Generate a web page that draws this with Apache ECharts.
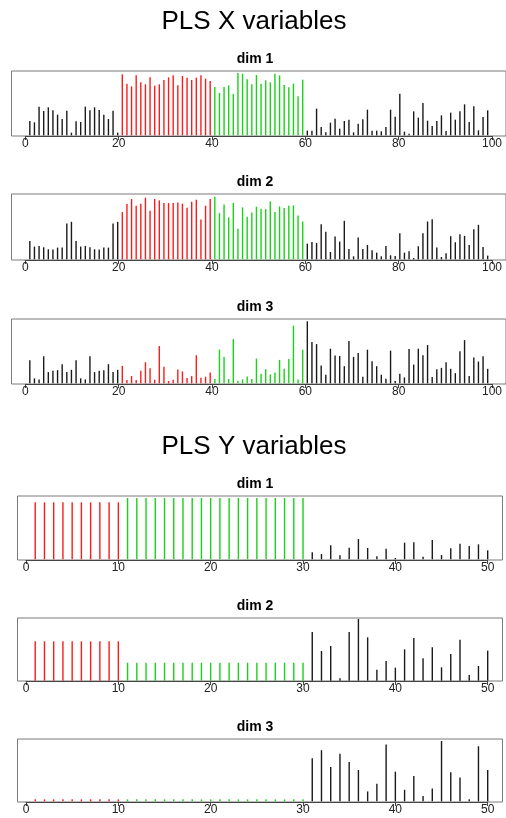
<!DOCTYPE html>
<html><head><meta charset="utf-8">
<script src="https://cdn.jsdelivr.net/npm/echarts@6/dist/echarts.min.js"></script>
<style>html,body{margin:0;padding:0;background:#fff}#c{width:506px;height:818px}</style>
</head><body><div id="c"></div>
<script>
// ---- data (bar heights, arbitrary units) ----
const xDim1 = [43,39,86,73,84,75,62,49,74,8, 42,40,86,75,84,76,62,49,74,8,
  183,155,147,180,159,153,174,149,153,166, 174,180,150,178,173,166,173,180,170,163,
  145,127,145,150,124,187,185,168,153,181, 155,165,159,185,180,151,144,155,117,167,
  14,14,80,25,9,38,50,20,43,47, 9,35,48,77,14,14,12,25,77,56,
  125,11,5,72,53,97,44,28,43,60, 13,68,47,72,93,40,87,15,55,75];
const xDim2 = [55,38,40,36,30,29,35,35,107,112, 55,38,40,36,30,29,35,35,107,112,
  141,165,180,160,166,184,145,180,176,168, 168,168,170,166,154,172,178,119,160,180,
  187,138,164,125,168,91,155,127,140,157, 151,150,173,141,158,153,160,161,131,113,
  47,52,49,105,82,22,68,53,115,31, 9,65,31,43,27,20,9,40,12,10,
  78,20,24,4,39,78,113,120,35,7, 18,69,51,75,70,43,90,103,37,11];
const xDim3 = [70,15,12,82,34,38,40,58,34,41, 70,15,12,82,34,38,40,58,34,41,
  53,10,22,10,38,64,46,11,113,50, 7,11,42,36,16,22,85,17,20,33,
  13,102,80,13,134,8,12,21,13,75, 29,43,27,33,71,44,74,175,12,102,
  188,125,119,54,26,105,84,83,52,128, 80,92,20,102,67,52,26,14,99,7,
  29,18,104,57,105,85,116,19,43,47, 64,44,31,97,131,22,78,66,82,44];
const yDim1 = [171,171,171,171,171,171,171,171,171,171,
  184,184,184,184,184,184,184,184,184,184, 184,184,184,184,184,184,184,184,184,184,
  21,16,42,12,35,61,34,9,32,4, 50,51,8,58,13,33,47,40,45,27];
const yDim2 = [118,118,118,118,118,118,118,118,118,118,
  54,54,54,54,54,54,54,54,54,54, 54,54,54,54,54,54,54,54,54,54,
  146,89,104,7,146,185,130,33,59,39, 94,128,67,100,40,80,123,17,44,90];
const yDim3 = [6,6,6,6,6,6,6,6,6,6, 6,6,6,6,6,6,6,6,6,6, 6,6,6,6,6,6,6,6,6,6,
  131,155,104,144,119,95,30,53,172,90, 35,77,16,39,183,88,72,6,167,95];
const xTicks = [0, 20, 40, 60, 80, 100];
const yTicks = [0, 10, 20, 30, 40, 50];
const xGroupEnds = [20, 40, 60, 100];          // black, red, green, black
const xGroupColors = ['k', 'r', 'g', 'k'];
const yGroupEnds = [10, 30, 50];               // red, green, black
const yGroupColors = ['r', 'g', 'k'];
const titles = ['PLS X variables', 'PLS Y variables'];
const dimNames = ['dim 1', 'dim 2', 'dim 3'];

// ---- layout ----
const COL = {k: '#1a1a1a', r: '#ff1a1a', g: '#19d219'};
function groupColor(i, ends, cols) { for (let k = 0; k < ends.length; k++) if (i <= ends[k]) return COL[cols[k]]; return COL.k; }

const panels = [
  {vals: xDim1, kind: 'x', top: 71,  h: 65, ymin: -2, ymax: 193},
  {vals: xDim2, kind: 'x', top: 194, h: 66, ymin: -2, ymax: 195},
  {vals: xDim3, kind: 'x', top: 319, h: 65, ymin: -2, ymax: 195},
  {vals: yDim1, kind: 'y', top: 496, h: 64, ymin: -2, ymax: 190},
  {vals: yDim2, kind: 'y', top: 618, h: 63, ymin: -1, ymax: 188},
  {vals: yDim3, kind: 'y', top: 739, h: 63, ymin: -2, ymax: 189},
];
const geo = {
  x: {boxL: 11.5, xmin: -2.96, xmax: 103.96, ax0: 25.3, axW: 466.7, amax: 100, interval: 20, ticks: xTicks, ends: xGroupEnds, cols: xGroupColors},
  y: {boxL: 17.5, xmin: -0.92, xmax: 51.6, ax0: 26, axW: 461.7, amax: 50, interval: 10, ticks: yTicks, ends: yGroupEnds, cols: yGroupColors},
};

const grid = [], xAxis = [], yAxis = [], series = [], graphic = [];
const FONT = '"Liberation Sans", Arial, Helvetica, sans-serif';
panels.forEach((p, n) => {
  const g = geo[p.kind];
  const pxPerUnit = g.axW / g.amax;
  const boxW = (g.xmax - g.xmin) * pxPerUnit;
  grid.push({left: g.boxL, top: p.top, width: boxW, height: p.h, show: true, borderColor: '#7a7a7a', borderWidth: 1, backgroundColor: 'transparent'});
  const gi = grid.length - 1;
  xAxis.push({gridIndex: gi, type: 'value', min: g.xmin, max: g.xmax, show: false});
  yAxis.push({gridIndex: gi, type: 'value', min: p.ymin, max: p.ymax, show: false});
  series.push({
    type: 'bar', xAxisIndex: gi, yAxisIndex: gi, barWidth: 1.4, animation: false, silent: true,
    data: p.vals.map((v, i) => ({value: [i + 1, v], itemStyle: {color: groupColor(i + 1, g.ends, g.cols)}}))
  });
  grid.push({left: g.ax0, top: p.top + p.h - 1, width: g.axW, height: 1, show: false});
  const ai = grid.length - 1;
  xAxis.push({gridIndex: ai, type: 'value', min: g.ticks[0], max: g.ticks[g.ticks.length - 1], interval: g.interval, position: 'bottom',
    axisLine: {show: true, lineStyle: {color: '#444', width: 1}},
    axisTick: {show: true, length: 4, lineStyle: {color: '#444'}},
    axisLabel: {show: true, margin: 2, fontSize: 12, color: '#222', fontFamily: FONT, showMinLabel: true, showMaxLabel: true},
    splitLine: {show: false}});
  yAxis.push({gridIndex: ai, type: 'value', show: false});
  graphic.push({type: 'text', x: 255, y: p.top - 12,
    style: {text: dimNames[n % 3], font: 'bold 14px ' + FONT, fill: '#000', align: 'center', verticalAlign: 'middle'}});
});
graphic.push({type: 'text', x: 254, y: 22, style: {text: titles[0], font: '26px ' + FONT, fill: '#000', align: 'center', verticalAlign: 'middle'}});
graphic.push({type: 'text', x: 254, y: 447, style: {text: titles[1], font: '26px ' + FONT, fill: '#000', align: 'center', verticalAlign: 'middle'}});

const chart = echarts.init(document.getElementById('c'), null, {renderer: 'canvas'});
chart.setOption({animation: false, backgroundColor: '#fff', grid, xAxis, yAxis, series, graphic});
</script></body></html>
